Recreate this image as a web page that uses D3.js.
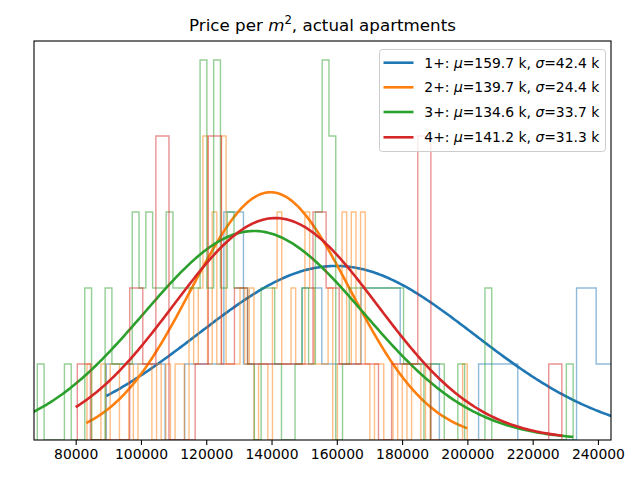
<!DOCTYPE html>
<html>
<head>
<meta charset="utf-8">
<script src="https://cdn.jsdelivr.net/npm/d3@7"></script>
<style>
  html, body { margin: 0; padding: 0; background: #fff; }
  svg { display: block; }
  text { font-family: "DejaVu Sans", sans-serif; }
</style>
</head>
<body>
<svg id="chart" width="640" height="480"></svg>
<script>
// ---------------- data ----------------
const seriesNames = ["1+", "2+", "3+", "4+"];
const seriesMu    = [159.7, 139.7, 134.6, 141.2];   // k
const seriesSigma = [42.4, 24.4, 33.7, 31.3];       // k
const seriesColors = ["#1f77b4", "#ff7f0e", "#2ca02c", "#d62728"];

// histogram bins (first edge, bin width) and counts
const binStart = [89375, 83464, 68240, 80493];
const binWidth = [6003, 1420.6, 2078, 4012];

const countsBlue = [1,1,1,0,1,1,3,1,1,1,2,1,1,2,2,1,1,0,0,1,1,0,0,0,2,1];
const countsOrange = [1,0,0,1,0,1,1,0,0,1,0,1,1,1,0,1,0,1,0,1,
                      1,0,2,1,2,4,1,3,1,4,1,1,1,2,1,2,0,1,1,0,
                      2,3,1,1,2,1,1,3,2,1,1,1,2,0,1,3,1,3,1,3,
                      1,0,1,1,0,0,1,0,1,0,1,1,0,1,0,0,0,0,0,0,
                      0,1];
const countsGreen = [1,0,0,0,1,0,0,2,0,0,2,1,1,1,3,2,3,2,2,3,
                     2,2,2,2,5,2,5,2,3,2,2,1,0,2,2,1,0,0,1,2,
                     1,3,5,4,0,1,2,2,2,2,2,2,2,2,1,1,1,0,1,1,
                     0,0,1,0,0,0,2,0,0,0,0,0,0,0,0,0,0,0,1];
const countsRed = [1,0,0,0,2,1,4,0,0,1,4,1,2,1,1,1,1,1,3,2,
                   1,1,1,0,1,1,4,0,0,0,0,0,0,0,0,0,1];
const seriesCounts = [countsBlue, countsOrange, countsGreen, countsRed];

// fitted normal curves: peak height (in count units) and x extent of the data
const curvePeak = [2.29, 3.26, 2.75, 2.92];
const curveMin  = [89375, 83230, 66000, 80000];
const curveMax  = [250000, 200000, 232400, 229000];

const xTicks = [80000, 100000, 120000, 140000, 160000, 180000, 200000, 220000, 240000];
const xDomain = [67230, 244000];
const yDomain = [0, 5.25];

// ---------------- layout ----------------
(function () {
const mLeft = 34, mRight = 611, mTop = 41, mBottom = 440;
const svg = d3.select("#chart");

const x = d3.scaleLinear().domain(xDomain).range([mLeft, mRight]);
const y = d3.scaleLinear().domain(yDomain).range([mBottom, mTop]);

svg.append("defs").append("clipPath").attr("id", "clip")
  .append("rect").attr("x", mLeft).attr("y", mTop)
  .attr("width", mRight - mLeft).attr("height", mBottom - mTop);

const plot = svg.append("g").attr("clip-path", "url(#clip)");
const line = d3.line().x(d => x(d[0])).y(d => y(d[1]));

seriesNames.forEach((name, s) => {
  const counts = seriesCounts[s];
  const pts = [[binStart[s], 0]];
  counts.forEach((c, i) => {
    const e0 = binStart[s] + i * binWidth[s];
    const e1 = e0 + binWidth[s];
    pts.push([e0, c], [e1, c]);
  });
  pts.push([binStart[s] + counts.length * binWidth[s], 0]);
  plot.append("path")
    .attr("d", line(pts))
    .attr("fill", "none")
    .attr("stroke", seriesColors[s])
    .attr("stroke-opacity", 0.5)
    .attr("stroke-width", 1.4);

  const mu = seriesMu[s] * 1000, sg = seriesSigma[s] * 1000;
  const n = 300;
  const cpts = d3.range(n + 1).map(k => {
    const xv = curveMin[s] + (curveMax[s] - curveMin[s]) * k / n;
    const z = (xv - mu) / sg;
    return [xv, curvePeak[s] * Math.exp(-0.5 * z * z)];
  });
  plot.append("path")
    .attr("d", line(cpts))
    .attr("fill", "none")
    .attr("stroke", seriesColors[s])
    .attr("stroke-width", 2.6);
});

// axes frame
svg.append("rect")
  .attr("x", mLeft).attr("y", mTop)
  .attr("width", mRight - mLeft).attr("height", mBottom - mTop)
  .attr("fill", "none").attr("stroke", "#000").attr("stroke-width", 1.1);

const xAxis = d3.axisBottom(x).tickValues(xTicks)
  .tickFormat(d3.format("d")).tickSizeOuter(0).tickSize(4.9).tickPadding(4.5);
const gx = svg.append("g").attr("transform", `translate(0,${mBottom})`).call(xAxis);
gx.select(".domain").remove();
gx.selectAll(".tick line").attr("stroke", "#000").attr("stroke-width", 1.1);
gx.selectAll(".tick text").attr("font-size", "13.9px").attr("fill", "#000")
  .attr("font-family", "DejaVu Sans");

// title
const title = svg.append("text")
  .attr("x", (mLeft + mRight) / 2).attr("y", 31)
  .attr("text-anchor", "middle").attr("font-size", "16.7px").attr("fill", "#000");
title.append("tspan").text("Price per ");
title.append("tspan").attr("font-style", "italic").text("m");
title.append("tspan").attr("font-size", "11.7px").attr("dy", -7).text("2");
title.append("tspan").attr("dy", 7).text(", actual apartments");

// legend
const lg = svg.append("g");
lg.append("rect")
  .attr("x", 379.5).attr("y", 49.5).attr("width", 226).attr("height", 102)
  .attr("rx", 3).attr("ry", 3)
  .attr("fill", "#fff").attr("fill-opacity", 0.8)
  .attr("stroke", "#cccccc").attr("stroke-width", 1);
const rowY = [62.7, 87.3, 112, 137.3];
seriesNames.forEach((name, s) => {
  const ry = rowY[s];
  lg.append("line").attr("x1", 383.5).attr("x2", 413.5)
    .attr("y1", ry).attr("y2", ry)
    .attr("stroke", seriesColors[s]).attr("stroke-width", 2.6);
  const t = lg.append("text").attr("x", 424.3).attr("y", ry + 5)
    .attr("font-size", "13.9px").attr("fill", "#000");
  t.append("tspan").text(name + ": ");
  t.append("tspan").attr("font-style", "italic").text("μ");
  t.append("tspan").text("=" + seriesMu[s].toFixed(1) + " k, ");
  t.append("tspan").attr("font-style", "italic").text("σ");
  t.append("tspan").text("=" + seriesSigma[s].toFixed(1) + " k");
});
})();
</script>
</body>
</html>
